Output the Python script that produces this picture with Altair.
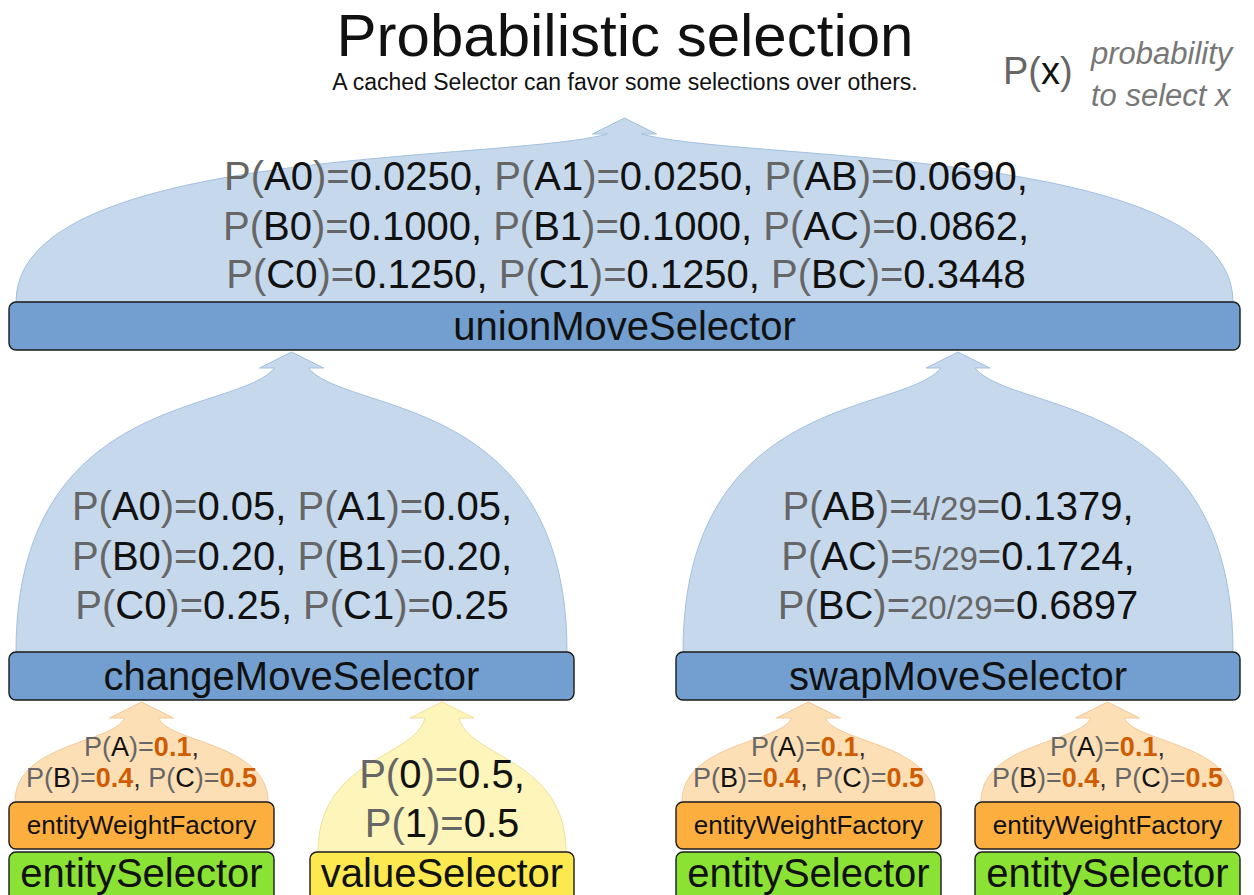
import altair as alt
import pandas as pd

# ---------------- values shown in the diagram ----------------
title_text = "Probabilistic selection"
subtitle_text = "A cached Selector can favor some selections over others."
legend_lines = ["probability", "to select x"]

union_moves = ["A0", "A1", "AB", "B0", "B1", "AC", "C0", "C1", "BC"]
union_probs = ["0.0250", "0.0250", "0.0690", "0.1000", "0.1000", "0.0862", "0.1250", "0.1250", "0.3448"]
change_moves = ["A0", "A1", "B0", "B1", "C0", "C1"]
change_probs = ["0.05", "0.05", "0.20", "0.20", "0.25", "0.25"]
swap_moves = ["AB", "AC", "BC"]
swap_fracs = ["4/29", "5/29", "20/29"]
swap_probs = ["0.1379", "0.1724", "0.6897"]
entity_names = ["A", "B", "C"]
entity_weights = ["0.1", "0.4", "0.5"]
value_names = ["0", "1"]
value_probs = ["0.5", "0.5"]

node_labels = ["unionMoveSelector", "changeMoveSelector", "swapMoveSelector",
               "entityWeightFactory", "entitySelector", "valueSelector",
               "entityWeightFactory", "entitySelector",
               "entityWeightFactory", "entitySelector"]

# ---------------- layout / style ----------------
BLUE, BLUE_L, BLUE_E = "#729fcf", "#c6d9ec", "#a3bfe0"
ORANGE, ORANGE_L, ORANGE_E = "#fcaf3e", "#fddfb6", "#f3c898"
YELLOW, YELLOW_L, YELLOW_E = "#fce94f", "#fdf5b9", "#ece09a"
GREEN = "#8ae234"
GRAY, BLACK, DARKORANGE = "#666666", "#111111", "#ce5c00"
FONT = "Liberation Sans"

# node boxes: x1, x2, y1, y2 (page pixels), fill, font size, text baseline
node_layout = [
    (9, 1240, 302, 350, BLUE, 40, 340),
    (9, 574, 652, 700, BLUE, 40, 690),
    (676, 1240, 652, 700, BLUE, 40, 690),
    (9, 274, 802, 849, ORANGE, 26, 834),
    (9, 274, 852, 906, GREEN, 40, 887),
    (310, 574, 852, 906, YELLOW, 40, 887),
    (676, 941, 802, 849, ORANGE, 26, 834),
    (676, 941, 852, 906, GREEN, 40, 887),
    (975, 1240, 802, 849, ORANGE, 26, 834),
    (975, 1240, 852, 906, GREEN, 40, 887),
]

# domes: cx, base y, half width, height to tip, shape params, fill, edge
dome_layout = [
    (624.5, 302, 608.5, 184, 0.93, 0.20, 0.83, BLUE_L, BLUE_E),
    (291.5, 652, 275.5, 300, 0.915, 0.20, 0.835, BLUE_L, BLUE_E),
    (958.0, 652, 275.0, 300, 0.915, 0.20, 0.835, BLUE_L, BLUE_E),
    (141.5, 802, 126.5, 100, 0.70, 0.22, 0.70, ORANGE_L, ORANGE_E),
    (442.0, 852, 124.0, 150, 0.70, 0.22, 0.70, YELLOW_L, YELLOW_E),
    (808.5, 802, 126.5, 100, 0.70, 0.22, 0.70, ORANGE_L, ORANGE_E),
    (1107.5, 802, 126.5, 100, 0.70, 0.22, 0.70, ORANGE_L, ORANGE_E),
]

OX, OY, CW, CH = 8, 8, 1238, 887
XS = alt.Scale(domain=[OX, OX + CW], nice=False, zero=False)
YS = alt.Scale(domain=[OY, OY + CH], nice=False, zero=False, reverse=True)


def bez(p0, p1, p2, p3, t):
    m = 1 - t
    return (m**3 * p0[0] + 3 * m * m * t * p1[0] + 3 * m * t * t * p2[0] + t**3 * p3[0],
            m**3 * p0[1] + 3 * m * m * t * p1[1] + 3 * m * t * t * p2[1] + t**3 * p3[1])


area_rows, edge_rows = [], []
NECK, HEAD_W, HEAD_H, N = 17, 32, 16, 48
for gi, (cx, base, W, H, a, bx, c, fill, edge) in enumerate(dome_layout):
    Hn = H - HEAD_H
    P0, P1, P2, P3 = (W, 0), (W, a * Hn), (bx * W, c * Hn), (NECK, Hn)
    pts = [bez(P0, P1, P2, P3, k / N) for k in range(N + 1)]
    left = [(cx - ox, base - oy) for ox, oy in pts]
    right = [(cx + ox, base - oy) for ox, oy in reversed(pts)]
    for x, y in left + right:
        area_rows.append(dict(g=f"b{gi}", x=x, y=y, y2=base, fill=fill))
    head = [(cx - HEAD_W, base - Hn), (cx, base - H), (cx + HEAD_W, base - Hn)]
    for x, y in head:
        area_rows.append(dict(g=f"h{gi}", x=x, y=y, y2=base - Hn, fill=fill))
    for i, (x, y) in enumerate(left + head + right):
        edge_rows.append(dict(g=f"e{gi}", x=x, y=y, i=i, edge=edge))

area_df = pd.DataFrame(area_rows)
edge_df = pd.DataFrame(edge_rows)

# ---------------- rich text as segments ----------------
AW = {' ': 278, '(': 333, ')': 333, ',': 278, '.': 278, '/': 278, '=': 584,
      'A': 667, 'B': 667, 'C': 722, 'P': 667, 'x': 500}
for d in "0123456789":
    AW[d] = 556


def tw(s, size):
    return sum(AW[ch] for ch in s) * size / 1000.0


def item(name, val, size, vcol=BLACK, vbold=False, frac=None, fsize=None):
    segs = [("P(", GRAY, size, False), (name, BLACK, size, False), (")=", GRAY, size, False)]
    if frac:
        segs += [(frac, GRAY, fsize, False), ("=", GRAY, size, False)]
    segs.append((val, vcol, size, vbold))
    return segs


text_rows = []


def place_line(segs, cx, y):
    total = sum(tw(s, sz) for s, _, sz, _ in segs)
    x = cx - total / 2
    for s, col, sz, bold in segs:
        if s.strip():
            text_rows.append(dict(x=x, y=y, text=s, color=col, size=sz, bold=bold))
        x += tw(s, sz)


def build_lines(items, per_line_counts, size, comma_col=BLACK):
    lines, k = [], 0
    n = len(items)
    for cnt in per_line_counts:
        segs = []
        for j in range(cnt):
            segs += items[k]
            if k < n - 1:
                segs.append((",", comma_col, size, False))
                if j < cnt - 1:
                    segs.append((" ", BLACK, size, False))
            k += 1
        lines.append(segs)
    return lines


def place_block(lines, cx, baselines):
    for segs, y in zip(lines, baselines):
        place_line(segs, cx, y)


# union
u_items = [item(m, p, 40) for m, p in zip(union_moves, union_probs)]
place_block(build_lines(u_items, [3, 3, 3], 40), 626, [190, 240, 288])
# change
c_items = [item(m, p, 40) for m, p in zip(change_moves, change_probs)]
place_block(build_lines(c_items, [2, 2, 2], 40), 292, [520, 570, 619])
# swap
s_items = [item(m, p, 40, frac=f, fsize=33) for m, f, p in zip(swap_moves, swap_fracs, swap_probs)]
place_block(build_lines(s_items, [1, 1, 1], 40), 958, [520, 570, 619])
# entity weights (three copies)
for cx in [141.5, 808.5, 1107.5]:
    e_items = [item(m, p, 27, vcol=DARKORANGE, vbold=True) for m, p in zip(entity_names, entity_weights)]
    place_block(build_lines(e_items, [1, 2], 27, comma_col="#333333"), cx, [756, 787])
# values
v_items = [item(m, p, 40) for m, p in zip(value_names, value_probs)]
place_block(build_lines(v_items, [1, 1], 40), 442, [788, 837])

# legend P(x)
lx = 1003
for s, col in [("P(", GRAY), ("x", BLACK), (")", GRAY)]:
    text_rows.append(dict(x=lx, y=84, text=s, color=col, size=38, bold=False))
    lx += tw(s, 38)

text_df = pd.DataFrame(text_rows)

node_df = pd.DataFrame([
    dict(label=lab, x1=l[0], x2=l[1], y1=l[2], y2=l[3], fill=l[4], size=l[5], ty=l[6], tx=(l[0] + l[1]) / 2)
    for lab, l in zip(node_labels, node_layout)
])

title_df = pd.DataFrame([
    dict(x=625, y=56, text=title_text, size=60),
    dict(x=625, y=90, text=subtitle_text, size=23),
])
legend_df = pd.DataFrame([
    dict(x=1091, y=64, text=legend_lines[0]),
    dict(x=1091, y=106, text=legend_lines[1]),
])

X = lambda f: alt.X(f, type="quantitative", scale=XS, axis=None)
Y = lambda f: alt.Y(f, type="quantitative", scale=YS, axis=None, stack=None)

areas = alt.Chart(area_df).mark_area(orient="vertical", opacity=1).encode(
    x=X("x"), y=Y("y"), y2="y2", detail="g:N",
    color=alt.Color("fill:N", scale=None))

edges = alt.Chart(edge_df).mark_line(strokeWidth=1).encode(
    x=X("x"), y=Y("y"), detail="g:N", order="i:Q",
    color=alt.Color("edge:N", scale=None))

boxes = alt.Chart(node_df).mark_rect(cornerRadius=7, stroke="#1a1a1a", strokeWidth=1.4, clip=True).encode(
    x=X("x1"), x2="x2", y=Y("y1"), y2="y2",
    color=alt.Color("fill:N", scale=None))

box_text = alt.Chart(node_df).mark_text(font=FONT, align="center", baseline="alphabetic", color=BLACK).encode(
    x=X("tx"), y=Y("ty"), text="label:N", size=alt.Size("size:Q", scale=None))

reg_text = alt.Chart(text_df[~text_df["bold"]]).mark_text(font=FONT, align="left", baseline="alphabetic").encode(
    x=X("x"), y=Y("y"), text="text:N",
    color=alt.Color("color:N", scale=None), size=alt.Size("size:Q", scale=None))

bold_text = alt.Chart(text_df[text_df["bold"]]).mark_text(font=FONT, align="left", baseline="alphabetic",
                                                          fontWeight="bold").encode(
    x=X("x"), y=Y("y"), text="text:N",
    color=alt.Color("color:N", scale=None), size=alt.Size("size:Q", scale=None))

titles = alt.Chart(title_df).mark_text(font=FONT, align="center", baseline="alphabetic", color=BLACK).encode(
    x=X("x"), y=Y("y"), text="text:N", size=alt.Size("size:Q", scale=None))

legend = alt.Chart(legend_df).mark_text(font=FONT, align="left", baseline="alphabetic", fontStyle="italic",
                                         color="#777777", fontSize=31).encode(
    x=X("x"), y=Y("y"), text="text:N")

chart = alt.layer(areas, edges, boxes, box_text, reg_text, bold_text, titles, legend).properties(
    width=CW, height=CH, padding=0, autosize=alt.AutoSizeParams(type="none"),
    background="white"
).configure_view(stroke=None)

chart.save("out.html", embed_options={"renderer": "svg", "actions": False})
